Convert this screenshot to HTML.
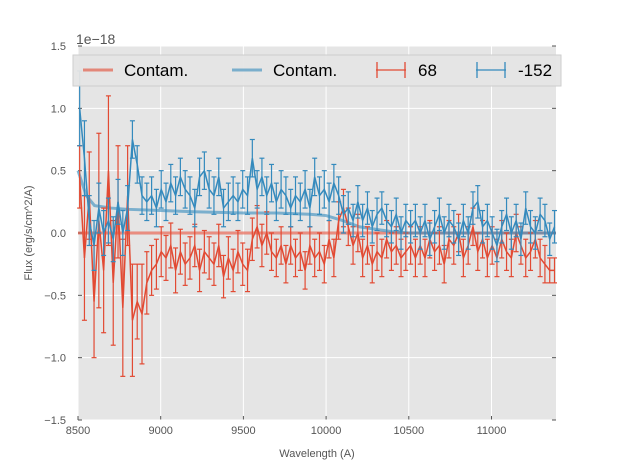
<!DOCTYPE html>
<html><head><meta charset="utf-8"><style>
body{margin:0;background:#fff;}
svg{font-family:"Liberation Sans",sans-serif;}
</style></head><body>
<svg id="c" width="617" height="467"></svg>
<script>
const contamX=[8500,8550,8600,8700,8800,9000,9200,9500,9700,9900,10000,10100,10200,10300,10400,10500,10800,11100,11390];
const contamRed=[0,0,0,0,0,0,0,0,0,0,0,0,0,0,0,0,0,0,0];
const contamBlue=[0.5,0.3,0.22,0.2,0.19,0.18,0.17,0.16,0.16,0.15,0.14,0.1,0.05,0.03,0.01,0.0,0.0,0.0,0.0];
const red=[0.45,-0.2,0.3,-0.55,0.1,-0.3,0.5,-0.4,0.25,-0.6,0.3,-0.7,-0.55,-0.65,-0.4,-0.3,-0.25,-0.15,-0.2,-0.1,-0.3,-0.15,-0.25,-0.2,-0.1,-0.3,-0.15,-0.2,-0.25,-0.1,-0.35,-0.2,-0.3,-0.15,-0.25,-0.3,-0.05,0.05,-0.1,0.0,-0.15,-0.2,-0.1,-0.25,-0.1,-0.2,-0.15,-0.3,-0.1,-0.2,-0.15,-0.25,-0.05,-0.2,0.1,0.2,0.05,-0.1,0.0,-0.2,-0.1,-0.25,-0.15,-0.2,-0.05,-0.15,-0.1,-0.2,-0.15,-0.1,-0.2,-0.1,-0.2,-0.05,-0.15,-0.1,-0.25,-0.05,-0.1,0.0,-0.2,-0.1,0.05,-0.15,-0.05,-0.2,-0.1,-0.2,-0.05,-0.15,-0.2,0.0,-0.1,-0.2,-0.15,-0.05,-0.2,-0.25,-0.3,-0.3];
const redErr=[0.25,0.5,0.35,0.45,0.7,0.5,0.6,0.5,0.45,0.55,0.4,0.45,0.3,0.4,0.25,0.2,0.2,0.2,0.18,0.18,0.18,0.18,0.17,0.17,0.17,0.17,0.17,0.17,0.17,0.17,0.17,0.17,0.17,0.17,0.17,0.17,0.17,0.17,0.17,0.17,0.15,0.15,0.15,0.15,0.15,0.15,0.15,0.15,0.15,0.15,0.15,0.15,0.15,0.15,0.15,0.15,0.15,0.15,0.15,0.15,0.15,0.15,0.15,0.15,0.15,0.15,0.15,0.15,0.15,0.15,0.15,0.15,0.15,0.15,0.15,0.15,0.15,0.15,0.15,0.15,0.15,0.15,0.15,0.15,0.15,0.15,0.15,0.15,0.15,0.15,0.15,0.15,0.15,0.15,0.15,0.15,0.15,0.15,0.1,0.1];
const blue=[1.0,0.6,0.1,-0.1,0.2,0.0,0.1,-0.05,0.25,0.0,0.2,0.75,0.55,0.3,0.25,0.3,0.2,0.35,0.25,0.4,0.3,0.45,0.35,0.3,0.2,0.45,0.5,0.35,0.3,0.45,0.2,0.25,0.3,0.25,0.35,0.3,0.6,0.35,0.45,0.3,0.4,0.25,0.35,0.3,0.2,0.3,0.25,0.35,0.2,0.45,0.3,0.35,0.25,0.4,0.3,0.15,0.2,0.1,0.25,0.1,0.2,0.05,0.15,0.2,0.1,0.05,0.15,0.0,0.1,0.05,0.1,0.0,0.1,-0.05,0.05,0.15,0.0,0.1,0.05,-0.05,0.1,0.0,0.2,0.25,0.05,0.1,0.0,-0.1,0.05,0.15,0.0,0.1,-0.05,0.2,0.05,0.0,0.15,0.1,-0.05,0.05];
const blueErr=[0.3,0.3,0.2,0.2,0.2,0.18,0.18,0.18,0.18,0.18,0.18,0.15,0.15,0.15,0.15,0.15,0.15,0.15,0.15,0.15,0.15,0.15,0.15,0.15,0.15,0.15,0.15,0.15,0.15,0.15,0.15,0.15,0.15,0.15,0.15,0.15,0.15,0.15,0.15,0.15,0.15,0.15,0.15,0.15,0.15,0.15,0.15,0.15,0.15,0.15,0.15,0.15,0.15,0.15,0.15,0.15,0.13,0.13,0.13,0.13,0.13,0.13,0.13,0.13,0.13,0.13,0.13,0.13,0.13,0.13,0.13,0.13,0.13,0.13,0.13,0.13,0.13,0.13,0.13,0.13,0.13,0.13,0.13,0.13,0.13,0.13,0.13,0.13,0.13,0.13,0.13,0.13,0.13,0.13,0.13,0.13,0.13,0.13,0.13,0.13];
const xTicks=[8500,9000,9500,10000,10500,11000];
const yTicks=[-1.5,-1.0,-0.5,0.0,0.5,1.0,1.5];
const wlStart=8510, wlStep=29;

const NS='http://www.w3.org/2000/svg';
const svg=document.getElementById('c');
const L=78,R=556,T=46,B=420, X0=8500,X1=11390,Y0=-1.5,Y1=1.5;
const sx=v=>L+(v-X0)/(X1-X0)*(R-L);
const sy=v=>B-(v-Y0)/(Y1-Y0)*(B-T);
function el(t,a,p){const e=document.createElementNS(NS,t);for(const k in a)e.setAttribute(k,a[k]);(p||svg).appendChild(e);return e;}
const bg=el('rect',{x:L,y:T,width:R-L,height:B-T,fill:'#e5e5e5'});


xTicks.forEach(v=>{
  el('line',{x1:sx(v),x2:sx(v),y1:T,y2:B,stroke:'#fff','stroke-width':1});
  el('line',{x1:sx(v),x2:sx(v),y1:B,y2:B-4,stroke:'#555'});
  const t=el('text',{x:sx(v),y:B+14,'text-anchor':'middle','font-size':11,fill:'#555'});t.textContent=v;
  
  
});
yTicks.forEach(v=>{
  el('line',{x1:L,x2:R,y1:sy(v),y2:sy(v),stroke:'#fff','stroke-width':1});
  el('line',{x1:L,x2:L+4,y1:sy(v),y2:sy(v),stroke:'#555'});
  el('line',{x1:R,x2:R-4,y1:sy(v),y2:sy(v),stroke:'#555'});
  const t=el('text',{x:L-12,y:sy(v)+4,'text-anchor':'end','font-size':11,fill:'#555'});t.textContent=v.toFixed(1).replace('-','\u2212');
  
  
});
function line(xs,ys,color,w,op,name){
  const p=el('polyline',{points:xs.map((x,i)=>sx(x)+','+sy(ys[i])).join(' '),fill:'none',stroke:color,'stroke-width':w,opacity:op});
  
  
}
function series(vals,errs,color,name){
  const g=el('g',{stroke:color,'stroke-width':1.2});
  
  
  const xs=vals.map((v,i)=>wlStart+i*wlStep);
  vals.forEach((v,i)=>{
    const x=sx(xs[i]),y1=sy(v+errs[i]),y2=sy(v-errs[i]);
    el('line',{x1:x,x2:x,y1:y1,y2:y2},g);
    el('line',{x1:x-2.5,x2:x+2.5,y1:y1,y2:y1},g);
    el('line',{x1:x-2.5,x2:x+2.5,y1:y2,y2:y2},g);
  });
  line(xs,vals,color,1.5,1,name+'-line');
}
line(contamX,contamRed,'#E24A33',3,0.6,'contam-red-line');
line(contamX,contamBlue,'#348ABD',3,0.6,'contam-blue-line');
series(red,redErr,'#E24A33','series-68');
series(blue,blueErr,'#348ABD','series-minus-152');
</script>
<svg style="position:absolute;left:0;top:0" width="617" height="467">
<g font-family="Liberation Sans, sans-serif">
<rect x="73" y="55" width="488" height="31" fill="#e5e5e5" stroke="#ccc" opacity="0.95"/>
<line x1="83" x2="113" y1="70" y2="70" stroke="#E24A33" stroke-width="3" opacity="0.6"/>
<text x="124" y="76" font-size="17">Contam.</text>
<line x1="232" x2="262" y1="70" y2="70" stroke="#348ABD" stroke-width="3" opacity="0.6"/>
<text x="273" y="76" font-size="17">Contam.</text>
<g stroke="#E24A33" stroke-width="1.3"><line x1="376" x2="406" y1="70" y2="70"/><line x1="377" x2="377" y1="62" y2="78"/><line x1="405" x2="405" y1="62" y2="78"/></g>
<text x="418" y="76" font-size="17">68</text>
<g stroke="#348ABD" stroke-width="1.3"><line x1="476" x2="506" y1="70" y2="70"/><line x1="477" x2="477" y1="62" y2="78"/><line x1="505" x2="505" y1="62" y2="78"/></g>
<text x="518" y="76" font-size="17">-152</text>
</g>
<text x="76" y="44" font-size="14" fill="#555" font-family="Liberation Sans, sans-serif">1e−18</text>
<text x="317" y="457" font-size="11" fill="#555" text-anchor="middle" font-family="Liberation Sans, sans-serif">Wavelength (A)</text>
<text transform="translate(32,233) rotate(-90)" font-size="11" fill="#555" text-anchor="middle" font-family="Liberation Sans, sans-serif">Flux (erg/s/cm^2/A)</text>
</svg>
</body></html>
